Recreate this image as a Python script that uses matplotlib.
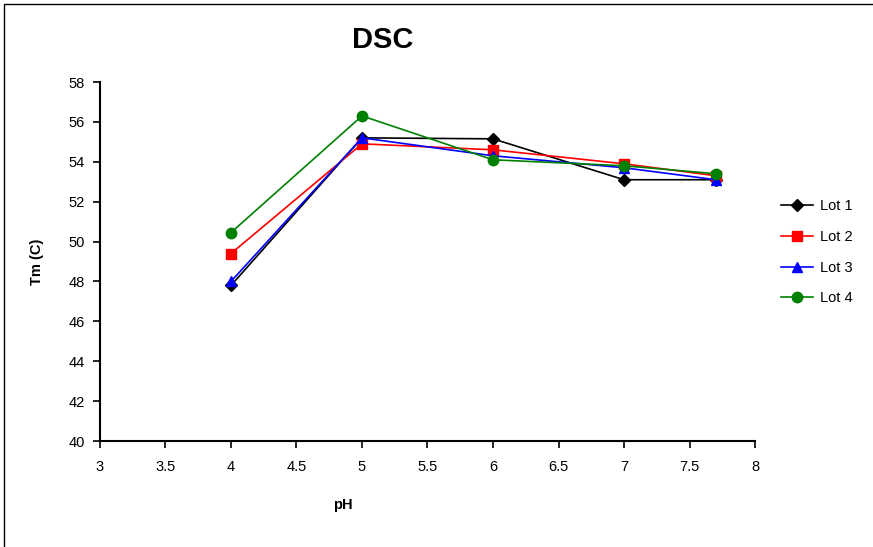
import matplotlib
matplotlib.use("Agg")
import matplotlib.pyplot as plt
from matplotlib.patches import Rectangle

plt.rcParams['font.family'] = ['Liberation Sans', 'DejaVu Sans']

ph = [4, 5, 6, 7, 7.7]
lot1 = [47.8, 55.2, 55.15, 53.1, 53.1]
lot2 = [49.4, 54.9, 54.6, 53.9, 53.3]
lot3 = [48.0, 55.2, 54.3, 53.7, 53.1]
lot4 = [50.45, 56.3, 54.1, 53.8, 53.4]
labels = ["Lot 1", "Lot 2", "Lot 3", "Lot 4"]
xticks = [3, 3.5, 4, 4.5, 5, 5.5, 6, 6.5, 7, 7.5, 8]
yticks = [40, 42, 44, 46, 48, 50, 52, 54, 56, 58]

W, H = 873, 547
fig = plt.figure(figsize=(W / 100, H / 100), dpi=100)
ax = fig.add_axes([100 / W, (H - 441) / H, 655 / W, 359 / H])

styles = [
    dict(color="black", marker="D", markersize=6),
    dict(color="red", marker="s", markersize=7),
    dict(color="blue", marker="^", markersize=7),
    dict(color="green", marker="o", markersize=7.5),
]
for ys, lab, st in zip([lot1, lot2, lot3, lot4], labels, styles):
    ax.plot(ph, ys, label=lab, linewidth=1.2, **st)

ax.set_xlim(3, 8)
ax.set_ylim(40, 58)
ax.set_xticks(xticks)
ax.set_xticklabels([f"{t:g}" for t in xticks])
ax.set_yticks(yticks)
ax.spines['top'].set_visible(False)
ax.spines['right'].set_visible(False)
ax.spines['left'].set_linewidth(1.5)
ax.spines['bottom'].set_linewidth(1.5)
ax.tick_params(axis='both', direction='out', length=5, width=1.2, labelsize=10.5, pad=9)
ax.tick_params(axis='y', pad=6)

fig.text(383 / W, 1 - 40 / H, "DSC", ha='center', va='center', fontsize=21, fontweight='bold')
fig.text(343 / W, 1 - 505 / H, "pH", ha='center', va='center', fontsize=10.5, fontweight='bold')
fig.text(37 / W, 1 - 262 / H, "Tm (C)", ha='center', va='center', fontsize=10.5, fontweight='bold', rotation=90)

ax.legend(loc='upper left', bbox_to_anchor=(768 / W, 1 - 186 / H), bbox_transform=fig.transFigure,
          frameon=False, fontsize=10.5, handlelength=2.2, labelspacing=1.15, handletextpad=0.5)

fig.patches.append(Rectangle((4 / W, -0.1), 1.2, 1 - 4 / H + 0.1, transform=fig.transFigure,
                             fill=False, edgecolor='black', linewidth=1.0))

fig.savefig("out.png", dpi=100)
